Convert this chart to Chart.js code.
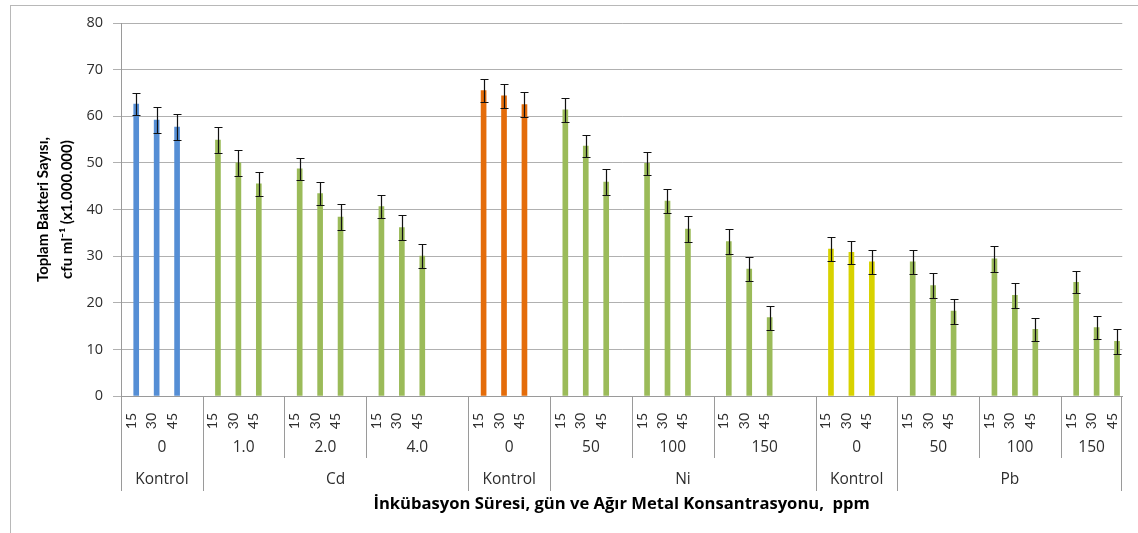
<!DOCTYPE html>
<html lang="tr">
<head>
    <meta charset="UTF-8">
    <title>Toplam Bakteri Sayısı</title>
    <style>
        html, body {
            margin: 0;
            padding: 0;
            background: #ffffff;
        }
        #chartBox {
            width: 1138px;
            height: 533px;
        }
    </style>
</head>
<body>
    <div id="chartBox">
        <canvas id="bakteriChart" width="1138" height="533"></canvas>
    </div>

    <script src="https://cdn.jsdelivr.net/npm/chart.js"></script>
    <script>
        // inkübasyon süresi (gün); boş etiketler gruplar arasındaki boşluklar
        const dayLabels = [
            '15', '30', '45', '',
            '15', '30', '45', '',
            '15', '30', '45', '',
            '15', '30', '45', '', '',
            '15', '30', '45', '',
            '15', '30', '45', '',
            '15', '30', '45', '',
            '15', '30', '45', '', '',
            '15', '30', '45', '',
            '15', '30', '45', '',
            '15', '30', '45', '',
            '15', '30', '45'
        ];

        // metal konsantrasyonu (ppm), her 15/30/45 grubu için bir tane
        const doses = ['0', '1.0', '2.0', '4.0', '0', '50', '100', '150', '0', '50', '100', '150'];

        // üst seviye: metal adı ve altındaki konsantrasyon grubu sayısı
        const metals = ['Kontrol', 'Cd', 'Kontrol', 'Ni', 'Kontrol', 'Pb'];
        const metalDoseCount = [1, 3, 1, 3, 1, 3];

        // toplam bakteri sayısı, cfu ml-1 (x1.000.000)
        const counts = [
            62.6, 59.2, 57.7, null,
            54.9, 50.0, 45.5, null,
            48.7, 43.4, 38.4, null,
            40.6, 36.1, 30.0, null, null,
            65.5, 64.4, 62.5, null,
            61.4, 53.6, 45.9, null,
            49.9, 41.8, 35.8, null,
            33.1, 27.2, 16.8, null, null,
            31.5, 30.8, 28.8, null,
            28.8, 23.7, 18.2, null,
            29.4, 21.6, 14.3, null,
            24.4, 14.7, 11.7
        ];

        // hata çubukları (±)
        const errors = [
            2.4, 2.8, 2.7, null,
            2.7, 2.8, 2.6, null,
            2.4, 2.4, 2.7, null,
            2.5, 2.7, 2.6, null, null,
            2.4, 2.6, 2.7, null,
            2.6, 2.4, 2.7, null,
            2.5, 2.5, 2.8, null,
            2.7, 2.6, 2.6, null, null,
            2.5, 2.5, 2.6, null,
            2.6, 2.7, 2.7, null,
            2.7, 2.7, 2.4, null,
            2.4, 2.5, 2.7
        ];

        const BLUE = '#558ED5';
        const GREEN = '#9BBB59';
        const ORANGE = '#E46C0A';
        const YELLOW = '#D8D200';
        const doseColors = [BLUE, GREEN, GREEN, GREEN, ORANGE, GREEN, GREEN, GREEN, YELLOW, GREEN, GREEN, GREEN];

        const AXIS_GRAY = '#9a9a9a';
        const TEXT = '#2e2e2e';
        const FONT = 'Lato';
        const WIDE_FONT = '"Open Sans"';

        // hangi kategori hangi konsantrasyon grubuna ait
        const groupStarts = [];
        dayLabels.forEach((d, i) => { if (d === '15') groupStarts.push(i); });
        const groupOf = dayLabels.map((d, i) => {
            let g = 0;
            while (g + 1 < groupStarts.length && groupStarts[g + 1] <= i) g++;
            return g;
        });

        // Excel gibi çubuk tick'in sağında dursun diye iki boş seri
        const emptySeries = dayLabels.map(() => null);

        const frame = {
            id: 'frame',
            beforeDraw(chart) {
                const ctx = chart.ctx;
                ctx.save();
                ctx.strokeStyle = '#b8b8b8';
                ctx.lineWidth = 1;
                ctx.strokeRect(10.5, 5.5, 1300, 700);
                ctx.restore();
            }
        };

        const errorBars = {
            id: 'errorBars',
            afterDatasetsDraw(chart) {
                const ctx = chart.ctx;
                const y = chart.scales.y;
                const meta = chart.getDatasetMeta(2);
                ctx.save();
                ctx.strokeStyle = '#111111';
                ctx.lineWidth = 1.2;
                meta.data.forEach((bar, i) => {
                    if (counts[i] == null) return;
                    const x = Math.round(bar.x) + 0.5;
                    const top = Math.round(y.getPixelForValue(counts[i] + errors[i])) + 0.5;
                    const bot = Math.round(y.getPixelForValue(counts[i] - errors[i])) + 0.5;
                    ctx.beginPath();
                    ctx.moveTo(x, top); ctx.lineTo(x, bot);
                    ctx.moveTo(x - 4, top); ctx.lineTo(x + 4, top);
                    ctx.moveTo(x - 4, bot); ctx.lineTo(x + 4, bot);
                    ctx.stroke();
                });
                ctx.restore();
            }
        };

        // konsantrasyon ve metal satırları, ayırıcı çizgiler
        const groupAxis = {
            id: 'groupAxis',
            afterDraw(chart) {
                const ctx = chart.ctx;
                const x = chart.scales.x;
                const half = (x.getPixelForValue(1) - x.getPixelForValue(0)) / 2;
                const y0 = x.top;
                const spans = groupStarts.map((s, g) => {
                    const last = (g + 1 < groupStarts.length ? groupStarts[g + 1] : dayLabels.length) - 1;
                    return [x.getPixelForValue(s) - half, x.getPixelForValue(last) + half];
                });

                const metalStart = [];
                let acc = 0;
                metalDoseCount.forEach(n => { metalStart.push(acc); acc += n; });

                ctx.save();
                ctx.strokeStyle = AXIS_GRAY;
                ctx.lineWidth = 1;
                ctx.beginPath();
                spans.forEach((sp, g) => {
                    const px = Math.round(sp[0]) + 0.5;
                    const len = metalStart.includes(g) ? 95 : 62;
                    ctx.moveTo(px, y0); ctx.lineTo(px, y0 + len);
                });
                const rx = Math.round(spans[spans.length - 1][1]) - 0.5;
                ctx.moveTo(rx, y0); ctx.lineTo(rx, y0 + 95);
                ctx.stroke();

                ctx.fillStyle = TEXT;
                ctx.font = '15.5px ' + WIDE_FONT;
                ctx.textAlign = 'center';
                ctx.textBaseline = 'middle';
                spans.forEach((sp, g) => {
                    ctx.fillText(doses[g], (sp[0] + sp[1]) / 2, y0 + 52);
                });
                metalStart.forEach((g, m) => {
                    const a = spans[g][0];
                    const b = spans[g + metalDoseCount[m] - 1][1];
                    ctx.fillText(metals[m], (a + b) / 2, y0 + 84);
                });
                ctx.restore();
            }
        };

        const ctx = document.getElementById('bakteriChart').getContext('2d');
        new Chart(ctx, {
            type: 'bar',
            data: {
                labels: dayLabels,
                datasets: [
                    { data: emptySeries },
                    { data: emptySeries },
                    {
                        label: 'Toplam Bakteri Sayısı',
                        data: counts,
                        backgroundColor: c => doseColors[groupOf[c.dataIndex]],
                        borderWidth: 0
                    }
                ]
            },
            options: {
                responsive: false,
                animation: false,
                devicePixelRatio: 1,
                layout: { padding: { top: 23, right: 15, bottom: 19, left: 0 } },
                datasets: { bar: { barThickness: 5 } },
                plugins: {
                    legend: { display: false },
                    tooltip: { enabled: false }
                },
                scales: {
                    x: {
                        grid: { display: false },
                        border: { color: AXIS_GRAY },
                        ticks: {
                            autoSkip: false,
                            minRotation: 90,
                            maxRotation: 90,
                            padding: 9,
                            color: TEXT,
                            font: { family: FONT, size: 14 }
                        },
                        title: {
                            display: true,
                            text: 'İnkübasyon Süresi, gün ve Ağır Metal Konsantrasyonu,  ppm',
                            color: '#000000',
                            font: { family: WIDE_FONT, size: 16.6, weight: 'bold', lineHeight: 1.15 },
                            padding: 0
                        },
                        afterFit(scale) { scale.height = 118; }
                    },
                    y: {
                        min: 0,
                        max: 80,
                        grid: { color: '#b0b0b0', tickLength: 8 },
                        border: { color: AXIS_GRAY },
                        ticks: {
                            stepSize: 10,
                            padding: 10,
                            color: TEXT,
                            font: { family: WIDE_FONT, size: 14.5 }
                        },
                        title: {
                            display: true,
                            text: ['Toplam Bakteri Sayısı,', 'cfu ml⁻¹ (x1.000.000)'],
                            color: '#000000',
                            font: { family: FONT, size: 15, weight: 'bold', lineHeight: 1.55 },
                            padding: { top: 32, bottom: 0 }
                        },
                        afterFit(scale) { scale.width = 121; }
                    }
                }
            },
            plugins: [frame, errorBars, groupAxis]
        });
    </script>
</body>
</html>
